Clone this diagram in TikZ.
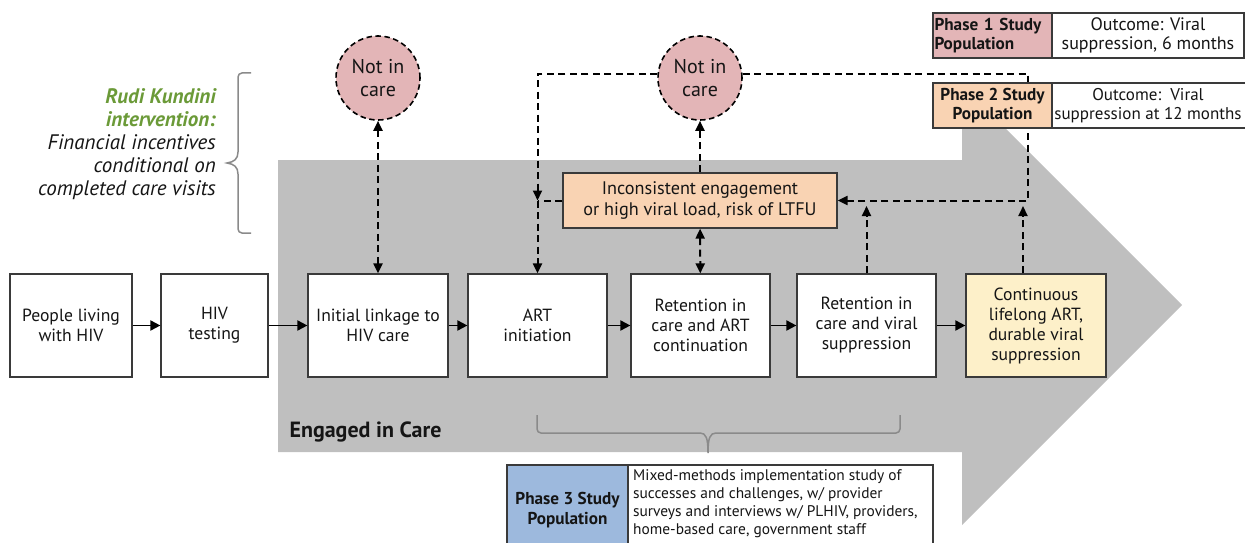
\documentclass[tikz,border=0pt]{standalone}
\usepackage{fontspec}
\setmainfont{PT Sans}
\usetikzlibrary{arrows.meta,calc}
\definecolor{arrowgray}{HTML}{BFBFBF}
\definecolor{boxline}{HTML}{3A3A3A}
\definecolor{txt}{HTML}{151515}
\definecolor{pinkfill}{HTML}{E3B5B7}
\definecolor{orangefill}{HTML}{F9D3B3}
\definecolor{yellowfill}{HTML}{FDF0C9}
\definecolor{bluefill}{HTML}{9DB9DD}
\definecolor{greentxt}{HTML}{6B9A38}
\definecolor{bracegray}{HTML}{8A8A8A}
\begin{document}
\begin{tikzpicture}[x=1pt,y=-1pt,
  every node/.style={text=txt},
  stagebox/.style={draw=boxline, line width=1.2pt, fill=white, minimum height=103pt,
    align=center, inner sep=0pt, font=\fontsize{17.6}{20}\selectfont},
  flow/.style={line width=1.9pt, draw=black, -{Triangle[length=10pt,width=10pt]}},
  dsh/.style={line width=2pt, draw=black, dash pattern=on 7pt off 4.5pt},
  tipend/.style={-{Triangle[length=10pt,width=9pt]}},
  tipboth/.style={{Triangle[length=10pt,width=9pt]}-{Triangle[length=10pt,width=9pt]}},
  notcare/.style={circle, draw=black, line width=1.6pt, dash pattern=on 5.5pt off 3.5pt,
    fill=pinkfill, minimum size=84pt, inner sep=0pt, align=center,
    font=\fontsize{20}{23}\selectfont},
  tagbox/.style={draw=boxline, line width=1.2pt, minimum height=45pt, inner sep=0pt,
    font=\bfseries\fontsize{17.2}{19.5}\selectfont},
  outbox/.style={draw=boxline, line width=1.2pt, fill=white, minimum height=45pt, inner sep=0pt,
    align=center, font=\fontsize{18}{19.5}\selectfont},
  bracestyle/.style={draw=bracegray, line width=1.5pt}
  ]
\useasboundingbox (0,0) rectangle (1245,543);
\clip (0,0) rectangle (1245,543);

% big gray arrow
\fill[arrowgray] (278,160) -- (962,160) -- (962,85) -- (1182,305) -- (962,525) -- (962,452) -- (278,452) -- cycle;
\node[anchor=west, font=\bfseries\fontsize{22}{26}\selectfont] (engaged) at (286,432) {Engaged in Care};

% stage boxes
\node[stagebox, minimum width=122pt] (b1) at (71,325.5) {People living\\with HIV};
\node[stagebox, minimum width=107pt] (b2) at (214.5,325.5) {HIV\\testing};
\node[stagebox, minimum width=140pt] (b3) at (378,325.5) {Initial linkage to\\HIV care};
\node[stagebox, minimum width=139pt] (b4) at (537.5,325.5) {ART\\initiation};
\node[stagebox, minimum width=139pt] (b5) at (700.5,325.5) {Retention in\\care and ART\\continuation};
\node[stagebox, minimum width=139pt] (b6) at (866.5,325.5) {Retention in\\care and viral\\suppression};
\node[stagebox, minimum width=140pt, fill=yellowfill] (b7) at (1036,325.5) {Continuous\\lifelong ART,\\durable viral\\suppression};

\draw[flow] (b1) -- (b2);
\draw[flow] (b2) -- (b3);
\draw[flow] (b3) -- (b4);
\draw[flow] (b4) -- (b5);
\draw[flow] (b5) -- (b6);
\draw[flow] (b6) -- (b7);

% not in care circles
\node[notcare] (c1) at (378,78) {Not in\\care};
\node[notcare] (c2) at (700,78) {Not in\\care};

% LTFU box
\node[draw=boxline, line width=1.2pt, fill=orangefill, minimum width=274pt, minimum height=55pt,
  inner sep=0pt, align=center, font=\fontsize{18.2}{21}\selectfont] (ltfu) at (700,200.5)
  {Inconsistent engagement\\or high viral load, risk of LTFU};

% dashed connectors
\coordinate (jA) at (537.5,200.5);
\coordinate (j6) at (866.5,206);
\coordinate (j7) at (1023,206);
\coordinate (jR) at (1028,200.5);
\draw[dsh, tipboth] (c1) -- (b3);
\draw[dsh, tipend] (c2.174) -| (jA);
\draw[dsh, tipend] (jA) -- (b4);
\draw[dsh] (ltfu.west) -- (jA);
\draw[dsh, tipend] (ltfu) -- (c2);
\draw[dsh, tipboth] (ltfu) -- (b5);
\draw[dsh, tipend] (b6.north) -- (j6);
\draw[dsh, tipend] (b7.north -| j7) -- (j7);
\draw[dsh, tipend] (c2.6) -| (jR) -- (ltfu.east);

% phase 1 and 2 boxes
\node[tagbox, fill=pinkfill, minimum width=119pt, align=left, text width=116pt] (p1) at (992.5,35.5) {Phase 1 Study\\Population};
\node[outbox, minimum width=192pt] (o1) at (1148,35.5) {Outcome: Viral\\suppression, 6 months};
\node[tagbox, fill=orangefill, minimum width=119pt, align=center] (p2) at (992.5,105.5) {Phase 2 Study\\Population};
\node[outbox, minimum width=210pt, font=\fontsize{17}{19.5}\selectfont] (o2) at (1157,105.5) {};
\node[align=center, inner sep=0pt, font=\fontsize{17}{19.5}\selectfont] (o2t) at (1148,105.5) {Outcome:\ \ Viral\\suppression at 12 months};

% phase 3 box
\node[tagbox, fill=bluefill, minimum width=121pt, minimum height=90pt, align=center] (p3) at (567.5,510) {Phase 3 Study\\Population};
\node[draw=boxline, line width=1.2pt, fill=white, minimum width=305pt, minimum height=90pt,
  inner sep=0pt] (o3) at (780.5,510) {};
\node[anchor=north west, align=left, inner sep=0pt, font=\fontsize{15.4}{18}\selectfont] (o3t) at (633,469)
  {Mixed-methods implementation study of\\successes and challenges, w/ provider\\surveys and interviews w/ PLHIV, providers,\\home-based care, government staff};

% bottom brace
\draw[bracestyle, rounded corners=4pt] (537,415) -- (537,433) -- (700,433);
\draw[bracestyle] (700,433) .. controls (706,433) and (708,438) .. (708,453)
  .. controls (708,438) and (710,433) .. (716,433);
\draw[bracestyle, rounded corners=4pt] (716,433) -- (900,433) -- (900,415);

% left brace
\draw[bracestyle, rounded corners=4pt] (251,73) -- (238,73) -- (238,152);
\draw[bracestyle] (238,152) .. controls (238,159) and (234,162) .. (227,163)
  .. controls (234,164) and (238,167) .. (238,174);
\draw[bracestyle, rounded corners=4pt] (238,174) -- (238,233) -- (251,233);

% intervention text
\node[anchor=east, align=right, inner sep=0pt, font=\itshape\fontsize{21}{23}\selectfont] (interv) at (216,144)
  {\textcolor{greentxt}{\bfseries Rudi Kundini}\\\textcolor{greentxt}{\bfseries intervention:}\\Financial incentives\\conditional on\\completed care visits};
\end{tikzpicture}
\end{document}
